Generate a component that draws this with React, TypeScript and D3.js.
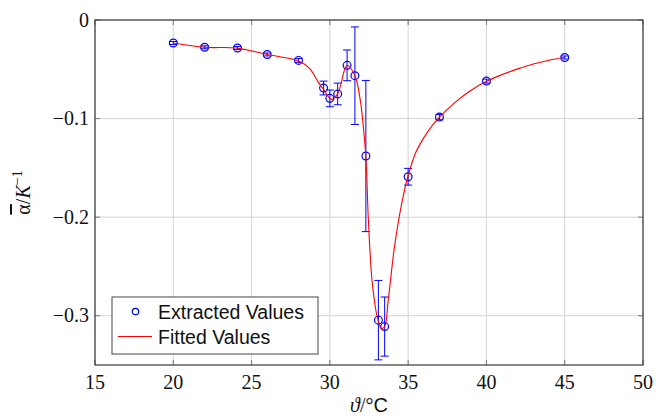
import React from "react";
import * as d3 from "d3";

const xTicks = [15, 20, 25, 30, 35, 40, 45, 50];
const yTicks = [0, -0.1, -0.2, -0.3];
const yTickLabels = ["0", "\u22120.1", "\u22120.2", "\u22120.3"];

const extX = [20, 22, 24.1, 26, 28, 29.6, 30, 30.5, 31.1, 31.6, 32.3, 33.1, 33.5, 35, 37, 40, 45];
const extY = [-0.0233, -0.0277, -0.0284, -0.035, -0.041, -0.069, -0.0795, -0.075, -0.046, -0.0565, -0.138, -0.3045, -0.311, -0.159, -0.0985, -0.062, -0.038];
const extErr = [0.0015, 0.0015, 0.0015, 0.0015, 0.002, 0.007, 0.0085, 0.011, 0.0156, 0.0495, 0.0767, 0.0403, 0.03, 0.0085, 0.0027, 0.002, 0.0015];

const fitX = [20, 22, 24, 26, 28, 28.7, 29.3, 29.6, 30.1, 30.5, 31.1, 31.6, 31.93, 32.14, 32.3, 32.45, 32.56, 32.71, 33.06, 33.3, 33.5, 33.73, 34.12, 34.59, 35, 35.5, 36, 36.5, 37, 38, 39, 40, 41, 42, 43, 44, 45];
const fitY = [-0.0233, -0.0277, -0.0284, -0.035, -0.0415, -0.049, -0.064, -0.0705, -0.0805, -0.075, -0.046, -0.0565, -0.08, -0.1086, -0.139, -0.1996, -0.2333, -0.267, -0.3035, -0.313, -0.311, -0.284, -0.231, -0.186, -0.158, -0.134, -0.1195, -0.108, -0.0985, -0.0835, -0.0715, -0.0622, -0.0554, -0.0496, -0.0446, -0.0408, -0.0378];

const legendLabels = ["Extracted Values", "Fitted Values"];

export default function App() {
  const W = 656, H = 418;
  const L = 95, R = 643, T = 20, B = 365;
  const x = d3.scaleLinear().domain([15, 50]).range([L, R]);
  const y = d3.scaleLinear().domain([-0.35, 0]).range([B, T]);
  const line = d3
    .line<number>()
    .x((_, i) => x(fitX[i]))
    .y((d) => y(d))
    .curve(d3.curveCatmullRom.alpha(0.5));
  const serif = "'Liberation Serif', 'DejaVu Serif', serif";
  const sans = "'Liberation Sans', Arial, sans-serif";
  const tickLen = 5;
  const gridColor = "#d4d4d4";
  const axisColor = "#3a3a3a";
  return (
    <div style={{ position: "fixed", left: 0, top: 0 }}>
      <svg width={W} height={H} style={{ display: "block", background: "#fff" }}>
        {xTicks.map((t) => (
          <line key={"gx" + t} x1={x(t)} x2={x(t)} y1={T} y2={B} stroke={gridColor} strokeWidth={1} />
        ))}
        {yTicks.map((t) => (
          <line key={"gy" + t} x1={L} x2={R} y1={y(t)} y2={y(t)} stroke={gridColor} strokeWidth={1} />
        ))}
        {xTicks.map((t) => (
          <g key={"tx" + t}>
            <line x1={x(t)} x2={x(t)} y1={B} y2={B - tickLen} stroke="#777" strokeWidth={1} />
            <line x1={x(t)} x2={x(t)} y1={T} y2={T + tickLen} stroke="#777" strokeWidth={1} />
          </g>
        ))}
        {yTicks.map((t) => (
          <g key={"ty" + t}>
            <line x1={L} x2={L + tickLen} y1={y(t)} y2={y(t)} stroke="#777" strokeWidth={1} />
            <line x1={R} x2={R - tickLen} y1={y(t)} y2={y(t)} stroke="#777" strokeWidth={1} />
          </g>
        ))}
        {extX.map((xv, i) => {
          const cx = x(xv);
          const y1 = y(extY[i] + extErr[i]);
          const y2 = y(extY[i] - extErr[i]);
          return (
            <g key={"e" + i} stroke="#0000ff" strokeWidth={1} fill="none">
              <line x1={cx} x2={cx} y1={y1} y2={y2} />
              <line x1={cx - 4} x2={cx + 4} y1={y1} y2={y1} />
              <line x1={cx - 4} x2={cx + 4} y1={y2} y2={y2} />
              <circle cx={cx} cy={y(extY[i])} r={3.9} strokeWidth={1.2} />
            </g>
          );
        })}
        <path d={line(fitY) || ""} fill="none" stroke="#ff0000" strokeWidth={1.1} />
        <rect x={L} y={T} width={R - L} height={B - T} fill="none" stroke={axisColor} strokeWidth={1.2} />
        {xTicks.map((t) => (
          <text key={"lx" + t} x={x(t)} y={389} textAnchor="middle" fontFamily={serif} fontSize={20} fill="#111">
            {t}
          </text>
        ))}
        {yTicks.map((t, i) => (
          <text key={"ly" + t} x={89} y={y(t) + 6.5} textAnchor="end" fontFamily={serif} fontSize={20} fill="#111">
            {yTickLabels[i]}
          </text>
        ))}
        <text x={(L + R) / 2} y={412} textAnchor="middle" fontFamily={serif} fontSize={20} fill="#111">
          <tspan fontStyle="italic">ϑ</tspan>
          <tspan>/°</tspan>
          <tspan fontFamily={sans}>C</tspan>
        </text>
        <text
          transform={`translate(30, ${(T + B) / 2}) rotate(-90)`}
          textAnchor="middle"
          fontFamily={serif}
          fontSize={20}
          fill="#111"
        >
          <tspan style={{ textDecoration: "overline" }}>α</tspan>
          <tspan>/</tspan>
          <tspan fontStyle="italic">K</tspan>
          <tspan fontSize={14} dy={-8}>{"\u22121"}</tspan>
        </text>
        <rect x={112} y={297} width={206} height={57} fill="#fff" stroke="#444" strokeWidth={1} />
        <circle cx={135.5} cy={311.5} r={3.2} fill="none" stroke="#0000ff" strokeWidth={1.2} />
        <line x1={118} x2={152} y1={336.5} y2={336.5} stroke="#ff0000" strokeWidth={1.1} />
        <text x={158} y={318.5} fontFamily={sans} fontSize={19.5} fill="#111">
          {legendLabels[0]}
        </text>
        <text x={158} y={343.5} fontFamily={sans} fontSize={19.5} fill="#111">
          {legendLabels[1]}
        </text>
      </svg>
    </div>
  );
}
